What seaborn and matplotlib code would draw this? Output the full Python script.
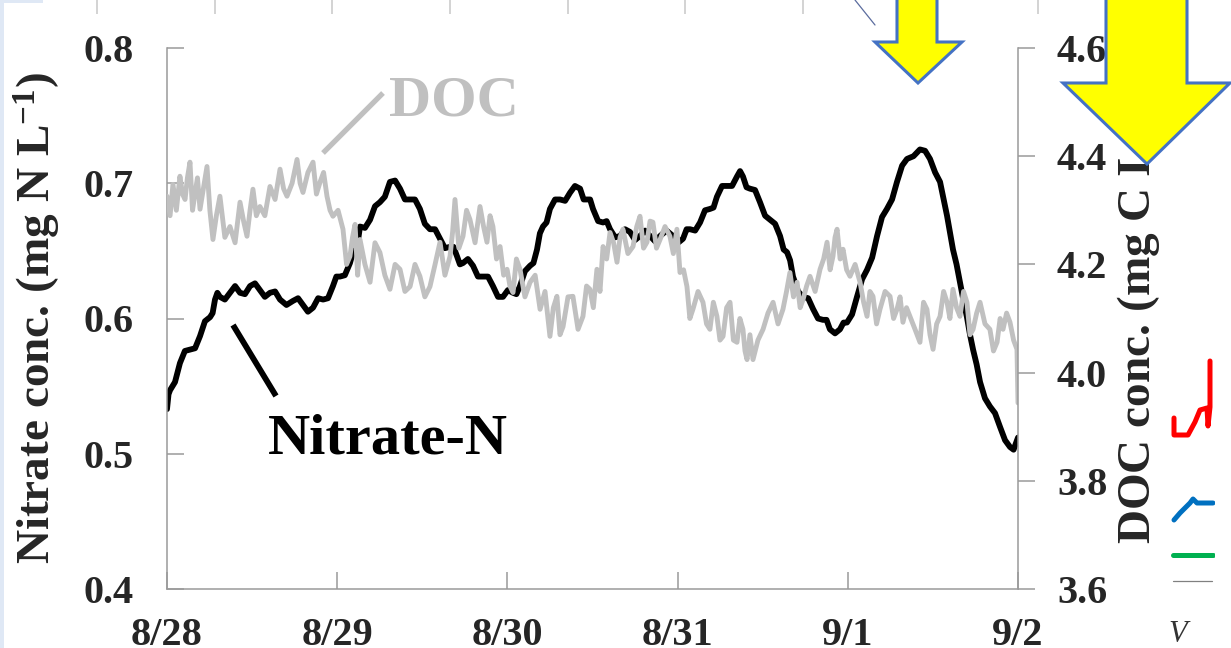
import matplotlib
matplotlib.use("Agg")
import matplotlib.pyplot as plt
import seaborn as sns
from matplotlib.patches import Polygon, Rectangle
from matplotlib.lines import Line2D

# ---------------- data ----------------
day_ticks = [0, 1, 2, 3, 4, 5]
date_labels = ["8/28", "8/29", "8/30", "8/31", "9/1", "9/2"]
nitrate_ticks = [0.4, 0.5, 0.6, 0.7, 0.8]
nitrate_tick_labels = ["0.4", "0.5", "0.6", "0.7", "0.8"]
doc_ticks = [3.6, 3.8, 4.0, 4.2, 4.4, 4.6]
doc_tick_labels = ["3.6", "3.8", "4.0", "4.2", "4.4", "4.6"]

nitrate_day = [0.000, 0.009, 0.018, 0.047, 0.076, 0.105, 0.135, 0.165, 0.194, 0.223,
               0.253, 0.268, 0.282, 0.296, 0.311, 0.340, 0.370, 0.400, 0.429, 0.458,
               0.488, 0.517, 0.546, 0.575, 0.605, 0.635, 0.664, 0.702, 0.740, 0.770,
               0.799, 0.828, 0.858, 0.888, 0.917, 0.946, 0.975, 0.995, 1.016, 1.045,
               1.075, 1.095, 1.116, 1.125, 1.134, 1.163, 1.193, 1.222, 1.251, 1.280,
               1.310, 1.340, 1.369, 1.398, 1.428, 1.457, 1.486, 1.515, 1.545, 1.575,
               1.604, 1.633, 1.663, 1.683, 1.704, 1.721, 1.739, 1.768, 1.798, 1.827,
               1.857, 1.886, 1.915, 1.945, 1.974, 2.003, 2.033, 2.053, 2.074, 2.103,
               2.133, 2.153, 2.174, 2.191, 2.209, 2.230, 2.250, 2.280, 2.309, 2.339,
               2.368, 2.397, 2.427, 2.448, 2.468, 2.486, 2.503, 2.533, 2.562, 2.583,
               2.603, 2.633, 2.662, 2.691, 2.720, 2.750, 2.779, 2.809, 2.838, 2.868,
               2.897, 2.935, 2.973, 3.003, 3.032, 3.053, 3.073, 3.103, 3.132, 3.161,
               3.190, 3.211, 3.231, 3.261, 3.290, 3.320, 3.349, 3.367, 3.384, 3.405,
               3.425, 3.455, 3.484, 3.514, 3.543, 3.573, 3.602, 3.623, 3.643, 3.661,
               3.678, 3.708, 3.737, 3.767, 3.796, 3.825, 3.854, 3.875, 3.895, 3.925,
               3.954, 3.975, 3.995, 4.025, 4.054, 4.084, 4.113, 4.143, 4.172, 4.201,
               4.230, 4.260, 4.289, 4.319, 4.348, 4.386, 4.424, 4.454, 4.483, 4.513,
               4.542, 4.563, 4.583, 4.600, 4.618, 4.639, 4.659, 4.680, 4.700, 4.718,
               4.736, 4.757, 4.777, 4.806, 4.835, 4.865, 4.894, 4.924, 4.953, 4.974,
               4.994, 5.000]
nitrate_val = [0.533, 0.544, 0.547, 0.553, 0.567, 0.576, 0.577, 0.578, 0.587, 0.598,
               0.601, 0.604, 0.614, 0.619, 0.616, 0.614, 0.619, 0.624, 0.619, 0.618,
               0.624, 0.626, 0.621, 0.616, 0.619, 0.620, 0.614, 0.610, 0.613, 0.615,
               0.610, 0.605, 0.608, 0.615, 0.614, 0.615, 0.624, 0.631, 0.631, 0.632,
               0.641, 0.650, 0.651, 0.660, 0.668, 0.667, 0.673, 0.683, 0.686, 0.690,
               0.701, 0.702, 0.696, 0.688, 0.688, 0.688, 0.681, 0.670, 0.666, 0.666,
               0.659, 0.652, 0.653, 0.653, 0.646, 0.640, 0.641, 0.644, 0.639, 0.631,
               0.631, 0.631, 0.624, 0.616, 0.616, 0.621, 0.619, 0.618, 0.624, 0.635,
               0.639, 0.641, 0.651, 0.663, 0.668, 0.671, 0.681, 0.688, 0.688, 0.687,
               0.693, 0.698, 0.696, 0.688, 0.688, 0.688, 0.681, 0.672, 0.671, 0.672,
               0.666, 0.660, 0.661, 0.666, 0.664, 0.658, 0.661, 0.665, 0.661, 0.657,
               0.661, 0.665, 0.661, 0.656, 0.659, 0.666, 0.666, 0.665, 0.671, 0.680,
               0.681, 0.682, 0.690, 0.698, 0.698, 0.698, 0.705, 0.709, 0.705, 0.697,
               0.696, 0.695, 0.686, 0.676, 0.673, 0.670, 0.661, 0.651, 0.649, 0.643,
               0.631, 0.620, 0.616, 0.615, 0.607, 0.600, 0.599, 0.599, 0.592, 0.589,
               0.592, 0.597, 0.597, 0.603, 0.616, 0.629, 0.636, 0.645, 0.661, 0.675,
               0.681, 0.688, 0.701, 0.713, 0.718, 0.720, 0.725, 0.724, 0.718, 0.708,
               0.701, 0.688, 0.676, 0.664, 0.651, 0.640, 0.627, 0.613, 0.601, 0.588,
               0.577, 0.566, 0.553, 0.541, 0.535, 0.530, 0.520, 0.510, 0.505, 0.503,
               0.510, 0.512]

doc_day = [0.000, 0.018, 0.035, 0.055, 0.076, 0.091, 0.106, 0.120, 0.135, 0.150,
           0.164, 0.179, 0.194, 0.214, 0.235, 0.252, 0.270, 0.290, 0.311, 0.340,
           0.370, 0.400, 0.429, 0.450, 0.470, 0.488, 0.505, 0.525, 0.546, 0.575,
           0.605, 0.635, 0.664, 0.685, 0.705, 0.735, 0.764, 0.782, 0.799, 0.828,
           0.858, 0.878, 0.899, 0.920, 0.940, 0.958, 0.975, 1.005, 1.034, 1.055,
           1.075, 1.090, 1.105, 1.120, 1.134, 1.163, 1.193, 1.222, 1.251, 1.280,
           1.310, 1.340, 1.369, 1.398, 1.428, 1.457, 1.486, 1.515, 1.545, 1.575,
           1.604, 1.633, 1.663, 1.678, 1.692, 1.715, 1.739, 1.760, 1.780, 1.810,
           1.839, 1.860, 1.880, 1.898, 1.915, 1.936, 1.957, 1.978, 1.998, 2.015,
           2.033, 2.053, 2.074, 2.103, 2.133, 2.163, 2.192, 2.221, 2.250, 2.270,
           2.291, 2.309, 2.327, 2.356, 2.385, 2.415, 2.444, 2.465, 2.485, 2.505,
           2.526, 2.544, 2.562, 2.583, 2.603, 2.624, 2.644, 2.662, 2.679, 2.708,
           2.738, 2.760, 2.779, 2.800, 2.820, 2.838, 2.855, 2.876, 2.897, 2.926,
           2.955, 2.975, 2.996, 3.014, 3.035, 3.055, 3.072, 3.090, 3.120, 3.149,
           3.170, 3.190, 3.210, 3.231, 3.249, 3.267, 3.288, 3.308, 3.328, 3.349,
           3.366, 3.384, 3.396, 3.408, 3.425, 3.443, 3.472, 3.502, 3.531, 3.561,
           3.590, 3.619, 3.640, 3.660, 3.681, 3.702, 3.720, 3.737, 3.758, 3.778,
           3.808, 3.837, 3.858, 3.878, 3.896, 3.913, 3.925, 3.937, 3.955, 3.972,
           3.993, 4.013, 4.043, 4.072, 4.093, 4.113, 4.130, 4.148, 4.169, 4.189,
           4.219, 4.248, 4.269, 4.289, 4.307, 4.324, 4.345, 4.365, 4.395, 4.424,
           4.445, 4.465, 4.483, 4.501, 4.522, 4.542, 4.563, 4.583, 4.600, 4.618,
           4.639, 4.659, 4.680, 4.700, 4.718, 4.736, 4.757, 4.777, 4.806, 4.835,
           4.856, 4.877, 4.895, 4.912, 4.933, 4.953, 4.974, 4.994, 5.000]
doc_val = [4.326, 4.290, 4.348, 4.300, 4.363, 4.330, 4.320, 4.360, 4.389, 4.300,
           4.330, 4.360, 4.302, 4.340, 4.381, 4.300, 4.246, 4.290, 4.326, 4.250,
           4.270, 4.240, 4.315, 4.280, 4.252, 4.300, 4.339, 4.290, 4.307, 4.290,
           4.344, 4.320, 4.376, 4.340, 4.326, 4.350, 4.394, 4.350, 4.333, 4.370,
           4.389, 4.330, 4.352, 4.370, 4.326, 4.300, 4.289, 4.300, 4.265, 4.200,
           4.215, 4.250, 4.274, 4.180, 4.246, 4.200, 4.167, 4.240, 4.222, 4.180,
           4.154, 4.200, 4.191, 4.150, 4.159, 4.200, 4.178, 4.140, 4.159, 4.200,
           4.241, 4.180, 4.215, 4.260, 4.320, 4.230, 4.252, 4.300, 4.283, 4.240,
           4.307, 4.270, 4.241, 4.290, 4.270, 4.210, 4.233, 4.180, 4.191, 4.160,
           4.148, 4.210, 4.191, 4.140, 4.167, 4.180, 4.117, 4.150, 4.067, 4.120,
           4.141, 4.070, 4.085, 4.140, 4.141, 4.080, 4.104, 4.160, 4.154, 4.120,
           4.191, 4.150, 4.233, 4.210, 4.259, 4.240, 4.204, 4.250, 4.265, 4.220,
           4.233, 4.270, 4.289, 4.230, 4.241, 4.280, 4.278, 4.230, 4.246, 4.270,
           4.252, 4.220, 4.265, 4.185, 4.190, 4.159, 4.100, 4.117, 4.150, 4.130,
           4.090, 4.080, 4.130, 4.104, 4.060, 4.067, 4.120, 4.130, 4.060, 4.056,
           4.100, 4.080, 4.040, 4.024, 4.070, 4.024, 4.060, 4.080, 4.110, 4.130,
           4.090, 4.117, 4.150, 4.185, 4.140, 4.167, 4.120, 4.135, 4.160, 4.178,
           4.150, 4.191, 4.210, 4.241, 4.190, 4.215, 4.250, 4.265, 4.210, 4.228,
           4.190, 4.178, 4.200, 4.167, 4.130, 4.104, 4.150, 4.141, 4.090, 4.117,
           4.150, 4.141, 4.100, 4.117, 4.140, 4.093, 4.120, 4.104, 4.080, 4.056,
           4.130, 4.117, 4.070, 4.043, 4.090, 4.104, 4.150, 4.130, 4.100, 4.154,
           4.120, 4.104, 4.150, 4.130, 4.070, 4.080, 4.110, 4.130, 4.090, 4.080,
           4.040, 4.056, 4.100, 4.080, 4.110, 4.093, 4.060, 4.043, 3.944]

# fragments of a neighbouring chart cut off at the right edge (relative units)
frag_red_x = [4, 4, 18, 25, 30, 37, 38, 40, 40]
frag_red_y = [172, 155, 155, 168, 180, 182, 164, 183, 229]
frag_blue_x = [4, 10, 15, 20, 23, 27, 43]
frag_blue_y = [70, 77, 82, 87, 91, 87, 87]
frag_green_x = [3, 43]
frag_green_y = [35, 35]
frag_gray_x = [3, 42]
frag_gray_y = [9, 9]
top_frag_ticks = [0, 1, 2, 3, 4, 5, 6, 7, 8]

# ---------------- style ----------------
sns.set_theme(style="white")
plt.rcParams['font.family'] = ['Liberation Serif', 'DejaVu Serif']
plt.rcParams['font.weight'] = 'bold'
plt.rcParams['mathtext.fontset'] = 'custom'
plt.rcParams['mathtext.rm'] = 'Liberation Serif'
plt.rcParams['mathtext.it'] = 'Liberation Serif:italic'
plt.rcParams['mathtext.bf'] = 'Liberation Serif:bold'

W, H = 1231, 648
def F(x, y):
    return (x / W, 1 - y / H)

fig = plt.figure(figsize=(W / 100, H / 100), dpi=100)
fig.patch.set_facecolor('white')

ax = fig.add_axes([167 / W, 1 - 589 / H, (1018 - 167) / W, (589 - 48) / H])
ax.patch.set_alpha(0)
ax2 = ax.twinx()

sns.lineplot(x=nitrate_day, y=nitrate_val, ax=ax, color='black', linewidth=4.2,
             estimator=None, sort=False)
sns.lineplot(x=doc_day, y=doc_val, ax=ax2, color='#c0c0c0', linewidth=3.5,
             estimator=None, sort=False)

ax.set_xlim(0, 5)
ax.set_ylim(0.4, 0.8)
ax2.set_ylim(3.6, 4.6)
ax.set_xticks(day_ticks)
ax.set_xticklabels(date_labels)
ax.set_yticks(nitrate_ticks)
ax.set_yticklabels(nitrate_tick_labels)
ax2.set_yticks(doc_ticks)
ax2.set_yticklabels(doc_tick_labels)
for a in (ax, ax2):
    a.set_xlabel('')
    a.set_ylabel('')
    a.grid(False)

spc = '#9a9a9a'
for s in ['top', 'right']:
    ax.spines[s].set_visible(False)
for s in ['left', 'bottom']:
    ax.spines[s].set_color(spc)
    ax.spines[s].set_linewidth(1.1)
for s in ['top', 'left', 'bottom']:
    ax2.spines[s].set_visible(False)
ax2.spines['right'].set_color(spc)
ax2.spines['right'].set_linewidth(1.1)

ax.tick_params(axis='y', direction='in', length=12, width=1.1, color=spc,
               pad=24, labelsize=29, left=True)
ax.tick_params(axis='x', direction='in', length=12, width=1.1, color=spc,
               pad=20, labelsize=29, bottom=True)
ax2.tick_params(axis='y', direction='out', length=12, width=1.1, color=spc,
                pad=16, labelsize=29, right=True)
for lab in ax.get_xticklabels() + ax.get_yticklabels() + ax2.get_yticklabels():
    lab.set_fontweight('bold')

# axis titles
fig.text(38 / W, 1 - 318 / H, 'Nitrate conc. (mg N L$^{-1}$)', rotation=90,
         ha='center', va='center', fontsize=34, fontweight='bold')
fig.text(1139 / W, 1 - 318 / H, 'DOC conc. (mg C L$^{-1}$)', rotation=90,
         ha='center', va='center', fontsize=34, fontweight='bold', zorder=3)

# series annotations
fig.text(454 / W, 1 - 115 / H, 'DOC', ha='center', va='baseline', fontsize=42,
         fontweight='bold', color='#c0c0c0')
fig.add_artist(Line2D([F(323, 153)[0], F(383, 93)[0]], [F(323, 153)[1], F(383, 93)[1]],
                      transform=fig.transFigure, color='#c0c0c0', lw=3.8,
                      solid_capstyle='butt'))
fig.text(388 / W, 1 - 453 / H, 'Nitrate-N', ha='center', va='baseline', fontsize=42,
         fontweight='bold', color='black')
fig.add_artist(Line2D([F(233, 325)[0], F(276, 396)[0]], [F(233, 325)[1], F(276, 396)[1]],
                      transform=fig.transFigure, color='black', lw=4.2,
                      solid_capstyle='butt'))

# yellow arrows
small_arrow = [F(897, -10), F(937, -10), F(937, 42), F(962, 42), F(918, 83),
               F(875, 42), F(897, 42)]
big_arrow = [F(1106, -10), F(1187, -10), F(1187, 83), F(1230, 83), F(1147, 164),
             F(1063, 83), F(1106, 83)]
for pts in (small_arrow, big_arrow):
    fig.add_artist(Polygon(pts, closed=True, transform=fig.transFigure,
                           facecolor='#FFFF00', edgecolor='#4472C4', lw=2.2,
                           joinstyle='miter', zorder=6))
fig.add_artist(Line2D([F(855, 0)[0], F(875, 25)[0]], [F(855, 0)[1], F(875, 25)[1]],
                      transform=fig.transFigure, color='#5B6C9E', lw=0.9, zorder=5))

# remnants of a chart above (tick marks hanging from its axis)
axt = fig.add_axes([97 / W, 1.0, (1038 - 97) / W, 0.05])
axt.set_xlim(0, 8)
axt.set_xticks(top_frag_ticks)
axt.set_yticks([])
axt.tick_params(axis='x', direction='out', length=10, width=1.1, color='#c8c8c8',
                labelbottom=False, bottom=True)
for s in axt.spines.values():
    s.set_visible(False)
axt.patch.set_alpha(0)

# remnants of a legend at the right edge
axr = fig.add_axes([1170 / W, 1 - 590 / H, 45 / W, 240 / H])
axr.set_xlim(0, 45)
axr.set_ylim(0, 240)
axr.axis('off')
axr.plot(frag_red_x, frag_red_y, color='#FF0000', lw=3.6)
axr.plot(frag_blue_x, frag_blue_y, color='#0070C0', lw=3.6)
axr.plot(frag_green_x, frag_green_y, color='#00B050', lw=3.6)
axr.plot(frag_gray_x, frag_gray_y, color='#808080', lw=0.9)
fig.text(1178 / W, 1 - 634 / H, 'V', ha='center', va='center', fontsize=22,
         fontstyle='italic', fontweight='normal', color='#333333')

# slide edge
fig.add_artist(Rectangle((0, 0), 4 / W, 1, transform=fig.transFigure,
                         facecolor='#dfe8f5', edgecolor='none', zorder=0))
fig.add_artist(Rectangle(F(0, 3), 43 / W, 3 / H, transform=fig.transFigure,
                         facecolor='#dfe8f5', edgecolor='none', zorder=0))

fig.savefig('out.png', dpi=100, facecolor='white')
